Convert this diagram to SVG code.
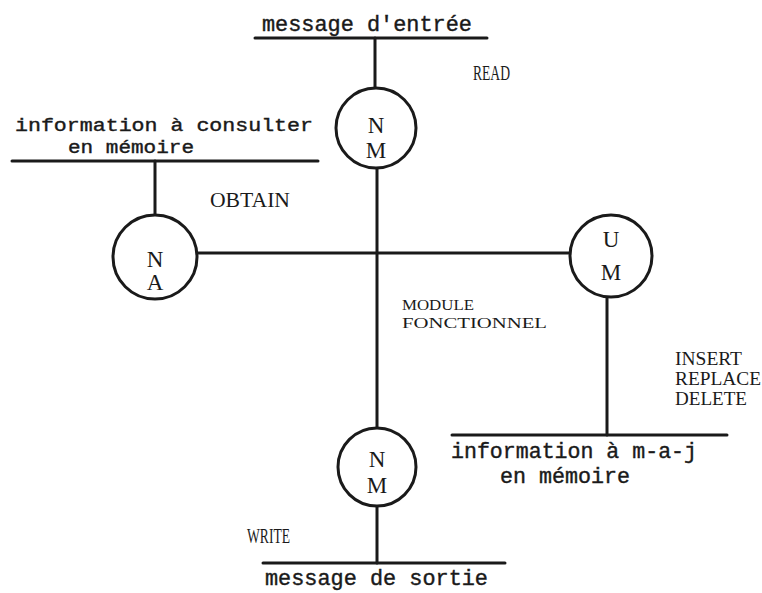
<svg xmlns="http://www.w3.org/2000/svg" width="762" height="593" viewBox="0 0 762 593">
<style>
.ln{stroke:#1a1a1a;stroke-width:3;fill:none;stroke-linecap:round}
.c{stroke:#1a1a1a;stroke-width:3;fill:#fff}
.t{font-family:"Liberation Mono",monospace;font-size:21.5px;fill:#1a1a1a;stroke:#1a1a1a;stroke-width:0.4}
.tc{font-size:19px}
.u{font-family:"Liberation Serif",serif;font-size:20px;fill:#1a1a1a}
.s{font-size:15.5px}
.r{font-size:18.5px}
.n{font-family:"Liberation Serif",serif;font-size:23px;fill:#1a1a1a;text-anchor:middle}
</style>
<rect width="762" height="593" fill="#fff"/>
<g id="connectors">
<line class="ln" x1="255" y1="38" x2="487" y2="38"/>
<line class="ln" x1="375" y1="38" x2="375" y2="88"/>
<line class="ln" x1="12" y1="161" x2="318" y2="161"/>
<line class="ln" x1="155" y1="161" x2="155" y2="215"/>
<line class="ln" x1="377" y1="168" x2="377" y2="428"/>
<line class="ln" x1="197" y1="253" x2="571" y2="253"/>
<line class="ln" x1="607" y1="297" x2="607" y2="435"/>
<line class="ln" x1="452" y1="435" x2="727" y2="435"/>
<line class="ln" x1="377" y1="506" x2="377" y2="563"/>
<line class="ln" x1="263" y1="563" x2="505" y2="563"/>
</g>
<g id="msg-entree"><text class="t" x="262" y="31" textLength="210" lengthAdjust="spacingAndGlyphs">message d'entrée</text></g>
<g id="info-consulter">
<text class="t tc" x="15" y="131" textLength="298" lengthAdjust="spacingAndGlyphs">information à consulter</text>
<text class="t tc" x="68" y="153" textLength="126" lengthAdjust="spacingAndGlyphs">en mémoire</text>
</g>
<g id="node-nm-top">
<circle class="c" cx="376" cy="128" r="40"/>
<text class="n" x="376" y="133">N</text>
<text class="n" x="376" y="158">M</text>
</g>
<g id="node-na">
<circle class="c" cx="155" cy="257" r="42"/>
<text class="n" x="155" y="267">N</text>
<text class="n" x="155" y="290">A</text>
</g>
<g id="node-um">
<circle class="c" cx="611" cy="256" r="41"/>
<text class="n" x="611" y="247">U</text>
<text class="n" x="611" y="280">M</text>
</g>
<g id="node-nm-bottom">
<circle class="c" cx="377" cy="467" r="39"/>
<text class="n" x="377" y="467">N</text>
<text class="n" x="377" y="493">M</text>
</g>
<g id="labels">
<text class="u" x="473" y="80" textLength="37" lengthAdjust="spacingAndGlyphs">READ</text>
<text class="u" x="210" y="207" textLength="80" lengthAdjust="spacingAndGlyphs">OBTAIN</text>
<text class="u s" x="402" y="310" textLength="72" lengthAdjust="spacingAndGlyphs">MODULE</text>
<text class="u s" x="402" y="328" textLength="145" lengthAdjust="spacingAndGlyphs">FONCTIONNEL</text>
<text class="u r" x="675" y="365" textLength="67" lengthAdjust="spacingAndGlyphs">INSERT</text>
<text class="u r" x="675" y="385" textLength="86" lengthAdjust="spacingAndGlyphs">REPLACE</text>
<text class="u r" x="675" y="405" textLength="72" lengthAdjust="spacingAndGlyphs">DELETE</text>
<text class="u" x="247" y="543" textLength="43" lengthAdjust="spacingAndGlyphs">WRITE</text>
</g>
<g id="info-maj">
<text class="t" x="451" y="458" textLength="246" lengthAdjust="spacingAndGlyphs">information à m-a-j</text>
<text class="t" x="500" y="483" textLength="130" lengthAdjust="spacingAndGlyphs">en mémoire</text>
</g>
<g id="msg-sortie"><text class="t" x="265" y="585" textLength="223" lengthAdjust="spacingAndGlyphs">message de sortie</text></g>
</svg>
